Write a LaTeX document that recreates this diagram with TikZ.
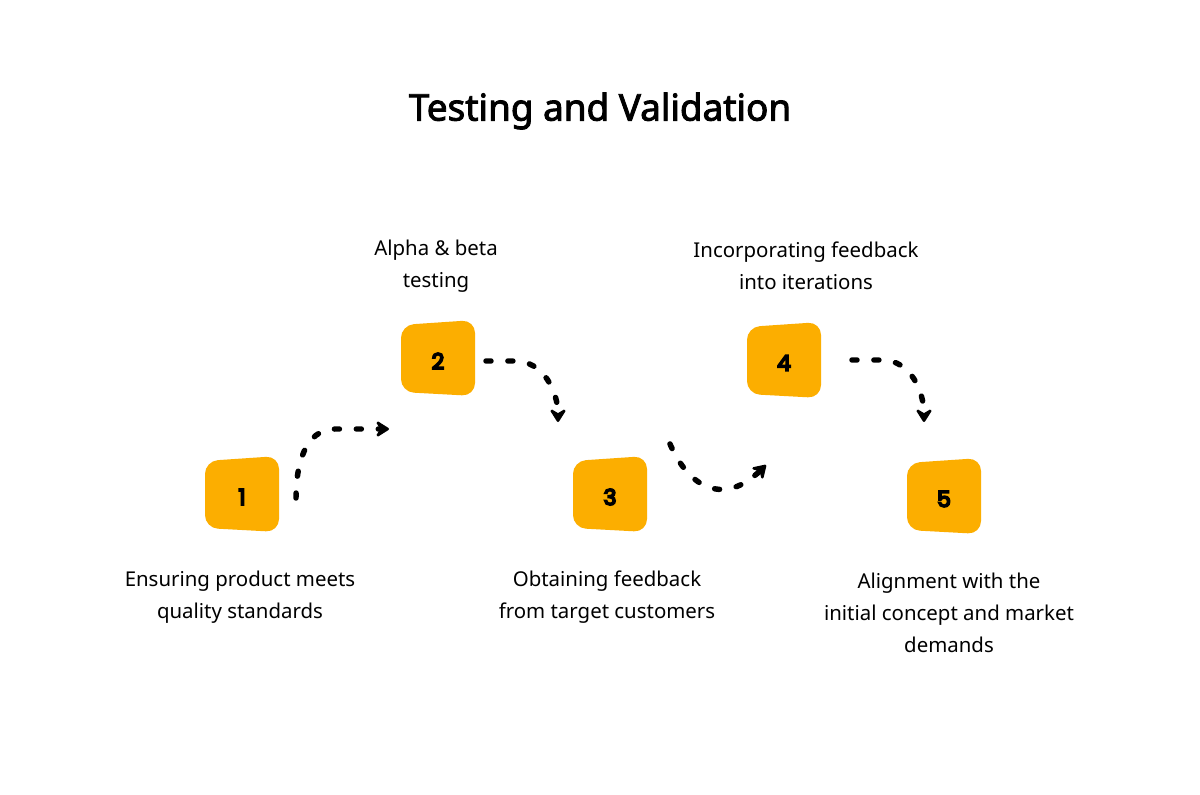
\documentclass[tikz,border=0pt]{standalone}
\usepackage{fontspec}
\setmainfont{Noto Sans}[BoldFont={Noto Sans}, BoldFeatures={FakeBold=2.5}]
\newfontfamily\numfont{Poppins}[BoldFont={Poppins}, BoldFeatures={FakeBold=8}]
\usetikzlibrary{arrows.meta}
\definecolor{boxorange}{HTML}{FCAE00}

\tikzset{
  stepshape/.style={fill=boxorange, rounded corners=13},
  stepnum/.style={font=\numfont\bfseries\fontsize{22}{22}\selectfont},
  steplabel/.style={align=center, font=\fontsize{20.5}{32}\selectfont},
  flow/.style={line width=5.5, line cap=round, dash pattern=on 5 off 17,
    -{Stealth[length=16,width=20,inset=6,round]}}
}

% one slanted step tile with its number in the middle
\newcommand\steptile[3]{%
  \begin{scope}[shift={(#2)}]
    \fill[stepshape] (-37,-33) -- (37,-38) -- (37,38) -- (-37,34) -- cycle;
    \node[stepnum] (#1) at (0,3) {#3};
  \end{scope}}

\begin{document}
\begin{tikzpicture}[x=1bp, y=-1bp]
        \fill[white] (0,0) rectangle (1200,795);
        \useasboundingbox (0,0) rectangle (1200,795);

        % Title
        \node[font=\bfseries\fontsize{37}{40}\selectfont] (title) at (600,111) {Testing and Validation};

        % The five step tiles
        \steptile{s1}{242,494}{1}
        \steptile{s2}{438,358}{2}
        \steptile{s3}{610,494}{3}
        \steptile{s4}{784,360}{4}
        \steptile{s5}{944,496}{5}

        % Labels above and below the tiles
        \node[steplabel] (l1) at (240,597) {Ensuring product meets\\quality standards};
        \node[steplabel] (l2) at (436,266) {Alpha \& beta\\testing};
        \node[steplabel] (l3) at (607,597) {Obtaining feedback\\from target customers};
        \node[steplabel] (l4) at (806,266) {Incorporating feedback\\into iterations};
        \node[steplabel] (l5) at (949,613) {Alignment with the\\initial concept and market\\demands};

        % Ends of the dotted connectors
        \coordinate (a1s) at (296,498);
        \coordinate (a1c) at (335,429);
        \coordinate (a1e) at (389,429);
        \coordinate (a2s) at (486,361);
        \coordinate (a2c) at (515,361);
        \coordinate (a2e) at (558,422);
        \coordinate (a3s) at (670,444);
        \coordinate (a3e) at (766,465);
        \coordinate (a4s) at (852,360);
        \coordinate (a4c) at (882,360);
        \coordinate (a4e) at (924,422);

        % Dotted connectors between the tiles
        \draw[flow] (a1s) to[out=90,in=180] (a1c) -- (a1e);
        \draw[flow] (a2s) -- (a2c) to[out=0,in=90] (a2e);
        \draw[flow] (a3s) .. controls (690,490) and (725,505) .. (a3e);
        \draw[flow] (a4s) -- (a4c) to[out=0,in=90] (a4e);
    \end{tikzpicture}
\end{document}
